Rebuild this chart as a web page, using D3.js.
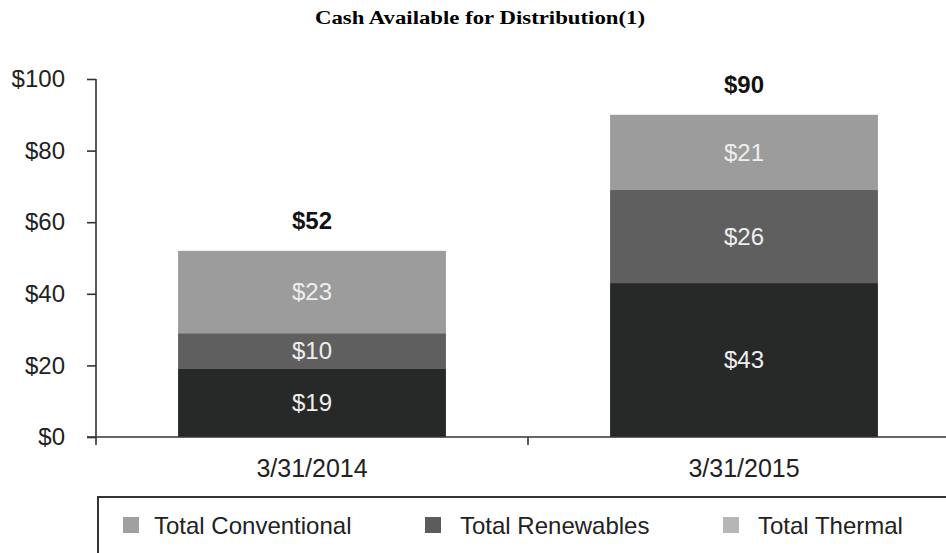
<!DOCTYPE html>
<html>
<head>
<meta charset="utf-8">
<script src="https://cdn.jsdelivr.net/npm/d3@7"></script>
<style>
	body { margin: 0; background: #fff; }
	svg { display: block; font-family: "Liberation Sans", Arial, sans-serif; }
</style>
</head>
<body>
<svg id="svg" width="946" height="553"></svg>
<script>
"use strict";

// data
const categories = ["3/31/2014", "3/31/2015"];
const seriesKeys = ["bottom", "middle", "top"];
const bottomValues = [19, 43];
const middleValues = [10, 26];
const topValues = [23, 21];
const totals = [52, 90];
const yTicks = [0, 20, 40, 60, 80, 100];
const legendLabels = ["Total Conventional", "Total Renewables", "Total Thermal"];
const legendColors = ["#a0a0a0", "#5c5c5c", "#b6b6b6"];

const segColors = { bottom: "#272828", middle: "#5f5f5f", top: "#9c9c9c" };

const rows = categories.map((c, i) => ({
	cat: c,
	bottom: bottomValues[i],
	middle: middleValues[i],
	top: topValues[i],
	total: totals[i],
}));

const svg = d3.select("#svg");

const x = d3
	.scaleBand()
	.domain(categories)
	.range([96, 960])
	.paddingInner(0.38)
	.paddingOuter(0.19);

const y = d3.scaleLinear().domain([0, 100]).range([437, 79]);

const stacked = d3.stack().keys(seriesKeys)(rows);

// title (the reference one is stretched wide)
svg.append("text")
	.text("Cash Available for Distribution(1)")
	.attr("x", 315)
	.attr("y", 24)
	.attr("textLength", 330)
	.attr("lengthAdjust", "spacingAndGlyphs")
	.attr("font-family", "'Liberation Serif', 'Times New Roman', serif")
	.attr("font-weight", "bold")
	.attr("font-size", "18px")
	.attr("fill", "#000");

// bars
const layers = svg
	.append("g")
	.selectAll("g")
	.data(stacked)
	.enter()
	.append("g")
	.attr("fill", (d) => segColors[d.key]);

layers
	.selectAll("rect")
	.data((d) => d)
	.enter()
	.append("rect")
	.attr("x", (d) => x(d.data.cat))
	.attr("width", x.bandwidth())
	.attr("y", (d) => y(d[1]))
	.attr("height", (d) => y(d[0]) - y(d[1]));

// segment labels
layers
	.selectAll("text")
	.data((d) => d)
	.enter()
	.append("text")
	.text((d) => "$" + (d[1] - d[0]))
	.attr("x", (d) => x(d.data.cat) + x.bandwidth() / 2)
	.attr("y", (d) => (y(d[0]) + y(d[1])) / 2)
	.attr("dy", "0.35em")
	.attr("text-anchor", "middle")
	.attr("font-size", "24px")
	.attr("fill", "#eeeeee");

// totals above bars
svg.append("g")
	.selectAll("text")
	.data(rows)
	.enter()
	.append("text")
	.text((d) => "$" + d.total)
	.attr("x", (d) => x(d.cat) + x.bandwidth() / 2)
	.attr("y", (d) => y(d.total) - 30)
	.attr("dy", "0.35em")
	.attr("text-anchor", "middle")
	.attr("font-weight", "bold")
	.attr("font-size", "24px")
	.attr("fill", "#111");

// y axis
const yAxis = svg
	.append("g")
	.attr("transform", "translate(96,0)")
	.call(
		d3
			.axisLeft(y)
			.tickValues(yTicks)
			.tickFormat((d) => "$" + d)
			.tickSize(9)
			.tickPadding(22)
	);
yAxis.select(".domain").remove();
yAxis.append("line")
	.attr("x1", 0)
	.attr("x2", 0)
	.attr("y1", y(100))
	.attr("y2", 445);
yAxis.selectAll("line").attr("stroke", "#333").attr("stroke-width", 1.6);
yAxis.selectAll("text")
	.attr("font-family", "'Liberation Sans', Arial, sans-serif")
	.attr("font-size", "24px")
	.attr("fill", "#222");

// x axis
const xAxis = svg
	.append("g")
	.attr("transform", "translate(0,437)")
	.call(d3.axisBottom(x).tickSize(0).tickPadding(22));
xAxis.select(".domain").remove();
xAxis.append("line")
	.attr("x1", 87)
	.attr("x2", 946)
	.attr("y1", 0)
	.attr("y2", 0);
// tick between the two categories
xAxis.append("line")
	.attr("x1", x(categories[1]) - (x.step() * x.paddingInner()) / 2)
	.attr("x2", x(categories[1]) - (x.step() * x.paddingInner()) / 2)
	.attr("y1", 0)
	.attr("y2", 8);
xAxis.selectAll("line").attr("stroke", "#333").attr("stroke-width", 1.6);
xAxis.selectAll("text")
	.attr("font-family", "'Liberation Sans', Arial, sans-serif")
	.attr("font-size", "25px")
	.attr("fill", "#222");

// legend
const legend = svg.append("g").attr("id", "legend");
legend
	.append("rect")
	.attr("x", 98)
	.attr("y", 497)
	.attr("width", 900)
	.attr("height", 100)
	.attr("fill", "none")
	.attr("stroke", "#333")
	.attr("stroke-width", 2);

const legendX = [123, 425, 723];
const items = legend
	.selectAll(".item")
	.data(legendLabels)
	.enter()
	.append("g")
	.attr("class", "item")
	.attr("transform", (d, i) => `translate(${legendX[i]},517)`);
items
	.append("rect")
	.attr("width", 16)
	.attr("height", 16)
	.attr("fill", (d, i) => legendColors[i]);
items
	.append("text")
	.text((d) => d)
	.attr("x", (d, i) => (i === 0 ? 31 : 35))
	.attr("y", 9)
	.attr("dy", "0.35em")
	.attr("font-size", "24px")
	.attr("fill", "#222");
</script>
</body>
</html>
